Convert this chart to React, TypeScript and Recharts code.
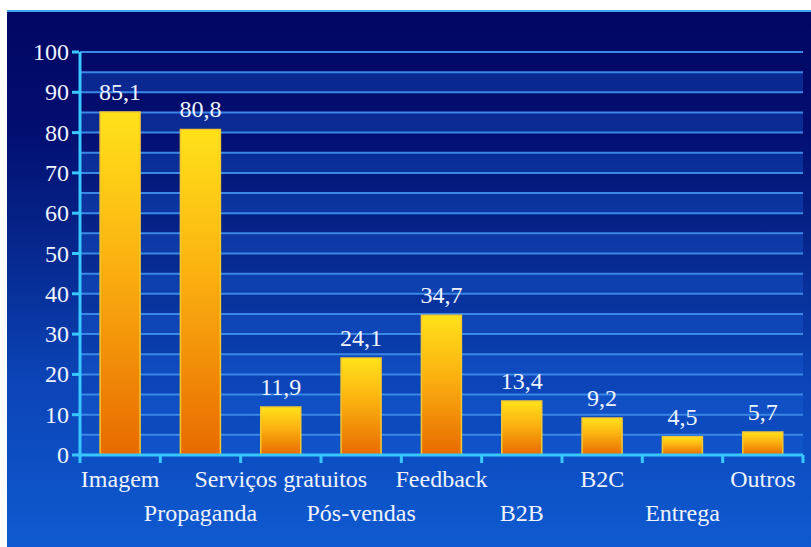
import React from 'react';
import { BarChart, Bar, XAxis, YAxis, CartesianGrid, LabelList } from 'recharts';

const categories = ['Imagem', 'Propaganda', 'Serviços gratuitos', 'Pós-vendas', 'Feedback', 'B2B', 'B2C', 'Entrega', 'Outros'];
const values = [85.1, 80.8, 11.9, 24.1, 34.7, 13.4, 9.2, 4.5, 5.7];
const yTicks = [0, 5, 10, 15, 20, 25, 30, 35, 40, 45, 50, 55, 60, 65, 70, 75, 80, 85, 90, 95, 100];

const data = categories.map((name, i) => ({ name, value: values[i] }));

const W = 804;
const H = 537;
const MARGIN = { top: 42, right: 8, left: 0, bottom: 32 };
const Y_W = 73;
const FONT = '"Liberation Serif", "Times New Roman", Times, serif';
const TEXT = '#eef3ff';
const AXIS = '#38c8ff';
const FS = 24;

const YTick = (props: any) => {
  const { x, y, payload } = props;
  if (payload.value % 10 !== 0) return null;
  return (
    <g>
      <line x1={x} x2={x + 7} y1={y} y2={y} stroke={AXIS} strokeWidth={3} />
      <text x={x - 3} y={y} dy={8} textAnchor="end" fill={TEXT} style={{ fontFamily: FONT, fontSize: FS }}>
        {payload.value}
      </text>
    </g>
  );
};

const band = (W - MARGIN.left - MARGIN.right - Y_W) / categories.length;

const XTick = (props: any) => {
  const { x, y, payload, index } = props;
  const row = index % 2 === 0 ? 0 : 1;
  return (
    <g>
      <line x1={x - band / 2} x2={x - band / 2} y1={y - 8} y2={y} stroke={AXIS} strokeWidth={3} />
      {index === categories.length - 1 && (
        <line x1={x + band / 2} x2={x + band / 2} y1={y - 8} y2={y} stroke={AXIS} strokeWidth={3} />
      )}
      <text x={x} y={y} dy={24 + row * 34} textAnchor="middle" fill={TEXT} style={{ fontFamily: FONT, fontSize: FS }}>
        {payload.value}
      </text>
    </g>
  );
};

export default function App() {
  return (
    <div
      style={{
        position: 'absolute',
        left: 7,
        top: 10,
        width: W,
        height: H,
        background: 'linear-gradient(to bottom, #010662 0%, #020e70 22%, #06288e 45%, #0b45b8 70%, #0f5ad0 100%)',
        boxShadow: 'inset 0 2px 0 #3aa8f2',
      }}
    >
      <BarChart width={W} height={H} data={data} margin={MARGIN} barCategoryGap="25%">
        <defs>
          <linearGradient id="barGrad" x1="0" y1="0" x2="0" y2="1">
            <stop offset="0%" stopColor="#ffe21a" />
            <stop offset="45%" stopColor="#fbb010" />
            <stop offset="100%" stopColor="#e86a00" />
          </linearGradient>
        </defs>
        <CartesianGrid
          vertical={false}
          stroke="#3b87e6"
          strokeWidth={2}
          horizontalFill={['transparent', 'rgba(25, 95, 215, 0.35)']}
        />
        <YAxis
          domain={[0, 100]}
          ticks={yTicks}
          interval={0}
          width={Y_W}
          tick={<YTick />}
          tickLine={false}
          axisLine={{ stroke: AXIS, strokeWidth: 3 }}
        />
        <XAxis
          dataKey="name"
          interval={0}
          height={60}
          tick={<XTick />}
          tickLine={false}
          axisLine={{ stroke: AXIS, strokeWidth: 3 }}
        />
        <Bar dataKey="value" fill="url(#barGrad)" stroke="#f2c830" strokeWidth={1.5} isAnimationActive={false}>
          <LabelList
            dataKey="value"
            position="top"
            offset={12}
            formatter={(v: any) => String(v).replace('.', ',')}
            fill={TEXT}
            style={{ fontFamily: FONT, fontSize: FS }}
          />
        </Bar>
      </BarChart>
    </div>
  );
}
